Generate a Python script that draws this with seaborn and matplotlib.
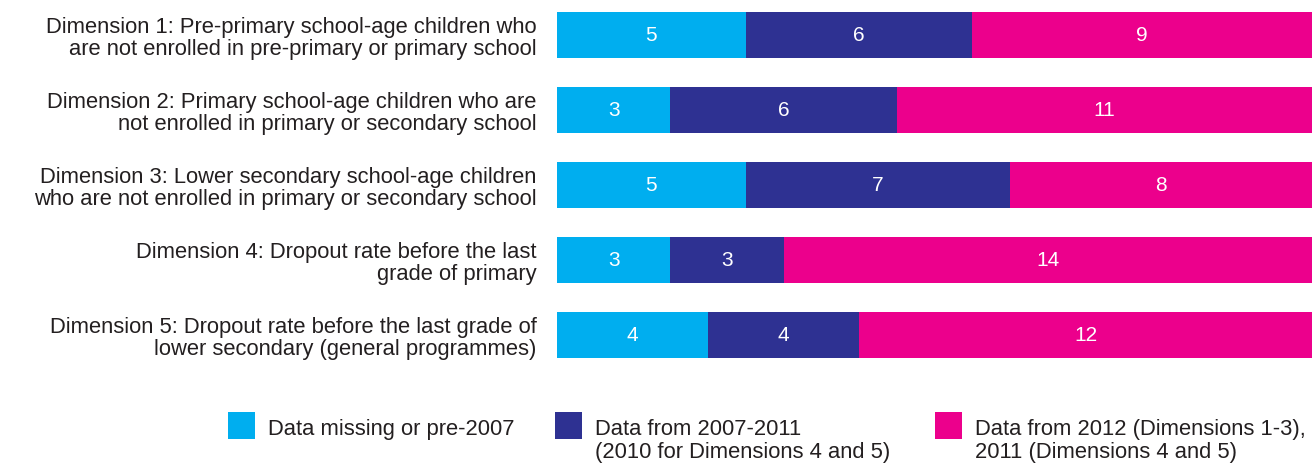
import matplotlib
matplotlib.use("Agg")
import matplotlib.pyplot as plt
import seaborn as sns
import numpy as np
import pandas as pd
from matplotlib.patches import Rectangle

# Out-of-school dimensions and number of countries per data-availability group
dimensions = [
    "Dimension 1: Pre-primary school-age children who\nare not enrolled in pre-primary or primary school",
    "Dimension 2: Primary school-age children who are\nnot enrolled in primary or secondary school",
    "Dimension 3: Lower secondary school-age children\nwho are not enrolled in primary or secondary school",
    "Dimension 4: Dropout rate before the last\ngrade of primary",
    "Dimension 5: Dropout rate before the last grade of\nlower secondary (general programmes)",
]
missing_pre2007 = [5, 3, 5, 3, 4]
from_2007_2011 = [6, 6, 7, 3, 4]
from_2012 = [9, 11, 8, 14, 12]

series_labels = [
    "Data missing or pre-2007",
    "Data from 2007-2011\n(2010 for Dimensions 4 and 5)",
    "Data from 2012 (Dimensions 1-3),\n2011 (Dimensions 4 and 5)",
]
colors = ["#00AEEF", "#2E3192", "#EC008C"]

sns.set_theme(style="white")
plt.rcParams["font.family"] = ["Liberation Sans", "DejaVu Sans"]

W, H = 1312, 464
fig = plt.figure(figsize=(W / 100, H / 100), dpi=100)
ax = fig.add_axes([557 / W, 1 - 366 / H, 755 / W, 366 / H])

series = [missing_pre2007, from_2007_2011, from_2012]
cum = np.cumsum(np.array(series), axis=0)

# Stacked bars: draw cumulative totals from the widest down
for i in range(len(series) - 1, -1, -1):
    df = pd.DataFrame({"dimension": dimensions, "value": cum[i]})
    sns.barplot(data=df, x="value", y="dimension", orient="h", color=colors[i],
                saturation=1, width=0.61, errorbar=None, ax=ax, linewidth=0)

# Segment value labels
for i, vals in enumerate(series):
    for j, v in enumerate(vals):
        ax.text(cum[i][j] - v / 2, j, str(v), ha="center", va="center",
                color="white", fontsize=15)

ax.set_xlim(0, 20)
ax.set_ylim(4.4, -0.48)
ax.set_xlabel("")
ax.set_ylabel("")
ax.set_xticks([])
ax.tick_params(axis="y", left=False, length=0, pad=14.5, labelsize=15.8,
               labelcolor="#231F20")
for lbl in ax.get_yticklabels():
    lbl.set_linespacing(1.05)
sns.despine(ax=ax, left=True, bottom=True)

# Legend drawn in figure pixels
legend_x = [228, 555, 935]
for x0, lab, col in zip(legend_x, series_labels, colors):
    fig.add_artist(Rectangle((x0 / W, 1 - 440 / H), 27 / W, 27 / H,
                             transform=fig.transFigure, color=col, lw=0))
    fig.text((x0 + 40) / W, 1 - 419 / H, lab, ha="left", va="top",
             fontsize=15.8, color="#231F20", linespacing=1.1)

fig.savefig("out.png", dpi=100)
